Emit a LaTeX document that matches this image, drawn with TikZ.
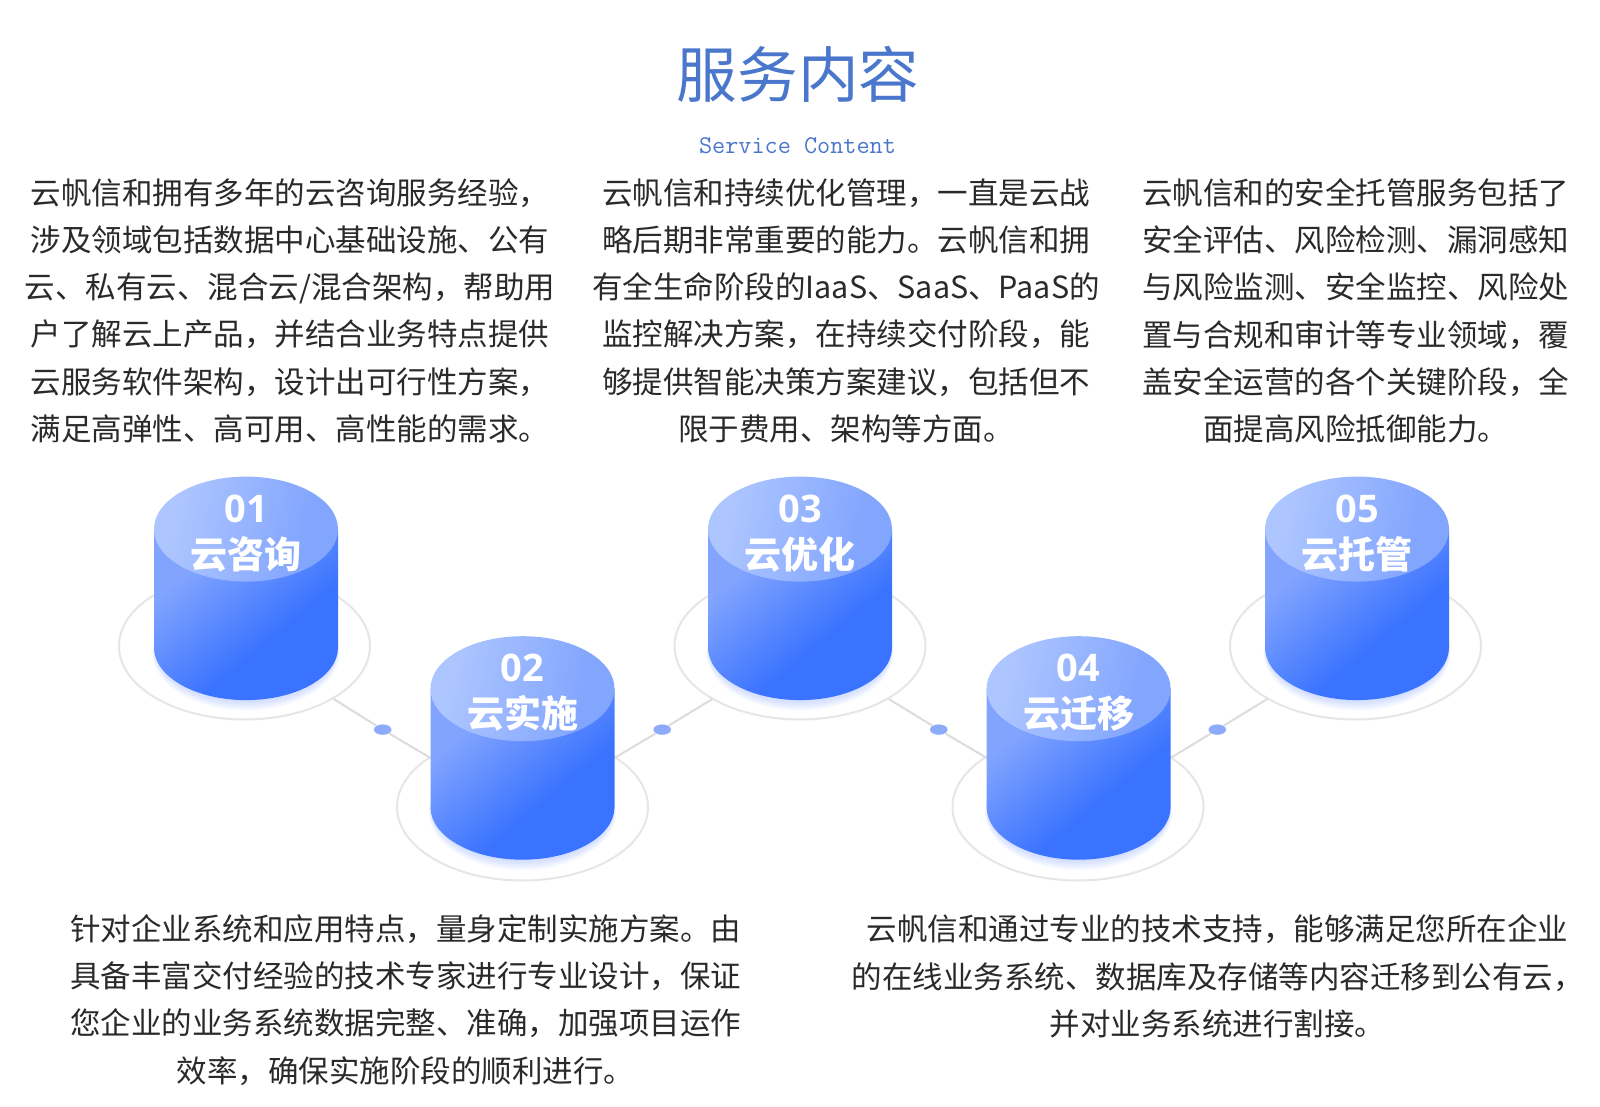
\documentclass[tikz,border=0pt]{standalone}
\usepackage{fontspec}
\setmainfont{Noto Sans CJK SC}
\newfontfamily\numfont{Open Sans}
\usetikzlibrary{shapes.geometric}
\definecolor{txt}{HTML}{2A2A2A}
\definecolor{ttl}{HTML}{4A77CC}
\definecolor{ringc}{HTML}{E6E6E6}
\definecolor{linkc}{HTML}{DCDCDC}
\definecolor{dotc}{HTML}{8CABFB}
\definecolor{bodyA}{HTML}{82A4FF}
\definecolor{bodyB}{HTML}{3A73FF}
\definecolor{capA}{HTML}{AEC6FF}
\definecolor{capB}{HTML}{82A5FE}
\definecolor{glow}{HTML}{5F8CFF}
\pgfdeclarehorizontalshading{bodyshade}{100bp}{color(0bp)=(bodyA); color(30bp)=(bodyA); color(60bp)=(bodyB); color(100bp)=(bodyB)}
\pgfdeclarehorizontalshading{capshade}{100bp}{color(0bp)=(capA); color(28bp)=(capA); color(68bp)=(capB); color(100bp)=(capB)}
\tikzset{
  para/.style={font=\fontsize{15.25}{23.65}\selectfont, text=txt, align=center, inner sep=0pt},
  ring/.style={draw=ringc, line width=1pt},
  link/.style={draw=linkc, line width=1pt},
  linkdot/.style={ellipse, fill=dotc, minimum width=8.8pt, minimum height=5.2pt, inner sep=0pt},
  cyltext/.style={text=white, inner sep=0pt, font=\fontsize{18.5}{20}\selectfont\bfseries},
  cylnum/.style={text=white, inner sep=0pt, font=\numfont\fontsize{19}{20}\selectfont\bfseries},
}
% #1 name, #2 cx, #3 top y, #4 number, #5 label
\newcommand{\cylshape}[5]{%
  \pgfmathsetmacro{\capy}{#3+52.5}%
  \pgfmathsetmacro{\boty}{#3+171}%
  \foreach \k in {1,...,7}{
    \fill[glow, opacity=0.045] (#2,\boty+\k*0.7) ellipse [x radius=90+\k*0.5, y radius=52.5+\k*0.8];
  }
  \path[shading=bodyshade, shading angle=-50]
    (#2-92,\capy) -- (#2-92,\boty) arc[start angle=180, end angle=0, x radius=92, y radius=52.5] -- (#2+92,\capy) -- cycle;
  \path[shading=capshade, shading angle=-12] (#2,\capy) ellipse [x radius=92, y radius=52.5];
  \node[cylnum] (num#1) at (#2,#3+32) {#4};
  \node[cyltext] (lab#1) at (#2,#3+77.5) {#5};
}
\begin{document}
\begin{tikzpicture}[x=0.5pt,y=-0.5pt]
\useasboundingbox (0,0) rectangle (1600,1107);
\fill[white] (0,0) rectangle (1600,1107);

\node[inner sep=0pt, text=ttl, font=\fontsize{30.3}{32}\selectfont] (title) at (798,74) {服务内容};
\node[inner sep=0pt, text=ttl, font=\fontsize{12.75}{14}\selectfont\ttfamily] (subtitle) at (797.5,145.5) {Service Content};

\node[para] (p1) at (290,310.7) {云帆信和拥有多年的云咨询服务经验，\\
涉及领域包括数据中心基础设施、公有\\
云、私有云、混合云/混合架构，帮助用\\
户了解云上产品，并结合业务特点提供\\
云服务软件架构，设计出可行性方案，\\
满足高弹性、高可用、高性能的需求。};
\node[para] (p3) at (846,310.7) {云帆信和持续优化管理，一直是云战\\
略后期非常重要的能力。云帆信和拥\\
有全生命阶段的IaaS、SaaS、PaaS的\\
监控解决方案，在持续交付阶段，能\\
够提供智能决策方案建议，包括但不\\
限于费用、架构等方面。};
\node[para] (p5) at (1355.5,310.7) {云帆信和的安全托管服务包括了\\
安全评估、风险检测、漏洞感知\\
与风险监测、安全监控、风险处\\
置与合规和审计等专业领域，覆\\
盖安全运营的各个关键阶段，全\\
面提高风险抵御能力。};
\node[para] (p2) at (405.6,1000) {针对企业系统和应用特点，量身定制实施方案。由\\
具备丰富交付经验的技术专家进行专业设计，保证\\
您企业的业务系统数据完整、准确，加强项目运作\\
效率，确保实施阶段的顺利进行。};
\node[para] (p4) at (1217.5,976.5) {云帆信和通过专业的技术支持，能够满足您所在企业\\
的在线业务系统、数据库及存储等内容迁移到公有云，\\
并对业务系统进行割接。};

% rings
\draw[ring] (244.5,646) ellipse [x radius=125.5, y radius=73.5];
\draw[ring] (522.5,807) ellipse [x radius=125.5, y radius=73.5];
\draw[ring] (800,646) ellipse [x radius=125.5, y radius=73.5];
\draw[ring] (1078,807) ellipse [x radius=125.5, y radius=73.5];
\draw[ring] (1355.5,646) ellipse [x radius=125.5, y radius=73.5];

% links
\coordinate (a1) at (333.7,699);  \coordinate (b1) at (430.6,758);
\coordinate (a2) at (614.3,758);  \coordinate (b2) at (712.3,699);
\coordinate (a3) at (888.8,699);  \coordinate (b3) at (986.8,758);
\coordinate (a4) at (1170.4,758); \coordinate (b4) at (1267.3,699);
\node[linkdot] (d1) at (382.7,729.6) {};
\node[linkdot] (d2) at (662.2,729.6) {};
\node[linkdot] (d3) at (938.8,729.6) {};
\node[linkdot] (d4) at (1217.3,729.6) {};
\draw[link] (a1) -- (d1) -- (b1);
\draw[link] (a2) -- (d2) -- (b2);
\draw[link] (a3) -- (d3) -- (b3);
\draw[link] (a4) -- (d4) -- (b4);

\cylshape{1}{246}{476.6}{01}{云咨询}
\cylshape{2}{522.5}{636.2}{02}{云实施}
\cylshape{3}{800}{476.6}{03}{云优化}
\cylshape{4}{1078.6}{636.2}{04}{云迁移}
\cylshape{5}{1357}{476.6}{05}{云托管}
\end{tikzpicture}
\end{document}
